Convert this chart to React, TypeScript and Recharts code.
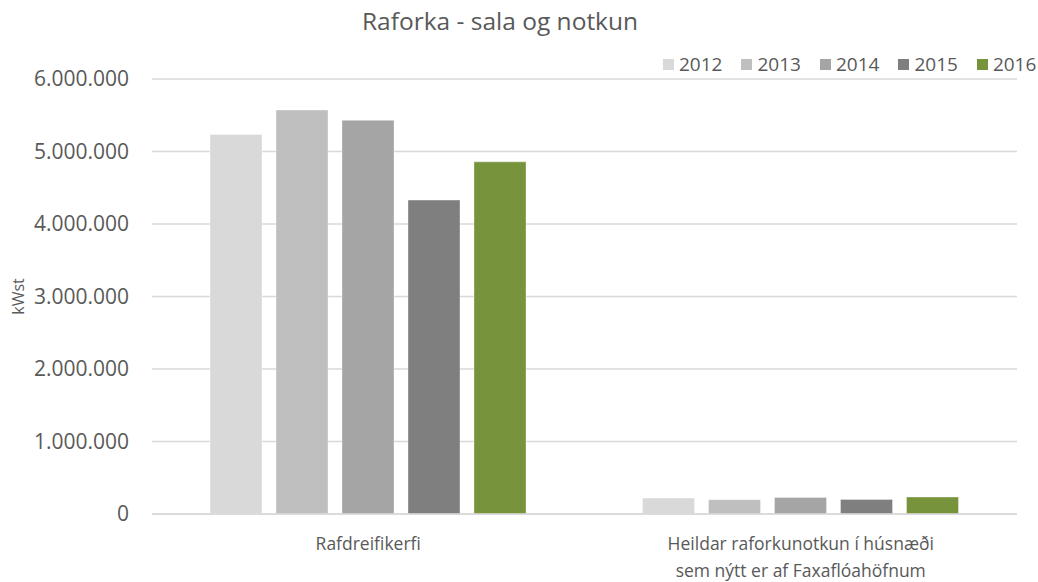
import React from 'react';
import { BarChart, Bar, XAxis, YAxis, CartesianGrid } from 'recharts';

const categories = ['Rafdreifikerfi', 'Heildar raforkunotkun í húsnæði\nsem nýtt er af Faxaflóahöfnum'];
const years = ['2012', '2013', '2014', '2015', '2016'];
const values2012 = [5234000, 220000];
const values2013 = [5573000, 198000];
const values2014 = [5430000, 229000];
const values2015 = [4330000, 200000];
const values2016 = [4857000, 234000];
const yTicks = [0, 1000000, 2000000, 3000000, 4000000, 5000000, 6000000];

const colors = ['#d9d9d9', '#bfbfbf', '#a5a5a5', '#7f7f7f', '#77933c'];
const series = [values2012, values2013, values2014, values2015, values2016];

const data = categories.map((name, i) => {
  const row: Record<string, string | number> = { name };
  years.forEach((y, j) => {
    row[y] = series[j][i];
  });
  return row;
});

const FONT = '"Open Sans", sans-serif';
const TEXT = '#595959';

const fmt = (v: number) => v.toString().replace(/\B(?=(\d{3})+(?!\d))/g, '.');

const CategoryTick = (props: any) => {
  const { x, y, payload } = props;
  const lines = String(payload.value).split('\n');
  return (
    <g transform={`translate(${x},${y})`}>
      {lines.map((line, i) => (
        <text
          key={i}
          x={0}
          y={28 + i * 27}
          textAnchor="middle"
          fill={TEXT}
          fontSize={17.5}
          fontFamily={FONT}
        >
          {line}
        </text>
      ))}
    </g>
  );
};

const YLabel = (props: any) => {
  const vb = props.viewBox || { y: 79, height: 435 };
  const cy = vb.y + vb.height / 2;
  return (
    <text
      x={18}
      y={cy}
      transform={`rotate(-90, 18, ${cy})`}
      textAnchor="middle"
      dominantBaseline="central"
      fill={TEXT}
      fontSize={16}
      fontFamily={FONT}
    >
      kWst
    </text>
  );
};

export default function App() {
  return (
    <div style={{ position: 'absolute', left: 0, top: 0, width: 1038, height: 582, background: '#fff' }}>
      <div
        style={{
          position: 'absolute',
          top: 5,
          left: 300,
          width: 400,
          textAlign: 'center',
          fontFamily: FONT,
          fontSize: 24.5,
          lineHeight: '32px',
          color: TEXT,
        }}
      >
        Raforka - sala og notkun
      </div>
      <div
        style={{
          position: 'absolute',
          top: 54,
          left: 663,
          display: 'flex',
          alignItems: 'center',
          fontFamily: FONT,
          fontSize: 19,
          color: TEXT,
          zIndex: 1,
        }}
      >
        {years.map((y, i) => (
          <div key={y} style={{ display: 'flex', alignItems: 'center', marginRight: i < years.length - 1 ? 19 : 0 }}>
            <span style={{ width: 11, height: 11, background: colors[i], display: 'inline-block', marginRight: 5 }} />
            <span style={{ lineHeight: '20px' }}>{y}</span>
          </div>
        ))}
      </div>
      <BarChart
        width={1038}
        height={582}
        data={data}
        margin={{ top: 79, right: 21, bottom: 0, left: 0 }}
        barSize={52}
        barGap={14}
      >
        <CartesianGrid vertical={false} stroke="#d9d9d9" strokeWidth={1.3} />
        <XAxis
          dataKey="name"
          height={68}
          axisLine={{ stroke: '#d9d9d9', strokeWidth: 1.3 }}
          tickLine={false}
          tick={<CategoryTick />}
          interval={0}
        />
        <YAxis
          width={152}
          domain={[0, 6000000]}
          ticks={yTicks}
          axisLine={false}
          tickLine={false}
          tickMargin={17}
          tickFormatter={fmt}
          tick={{ fill: TEXT, fontSize: 21, fontFamily: FONT }}
          label={<YLabel />}
        />
        {years.map((y, i) => (
          <Bar
            key={y}
            dataKey={y}
            fill={colors[i]}
            stroke="#ffffff"
            strokeOpacity={0.35}
            strokeWidth={1}
            isAnimationActive={false}
          />
        ))}
      </BarChart>
    </div>
  );
}
